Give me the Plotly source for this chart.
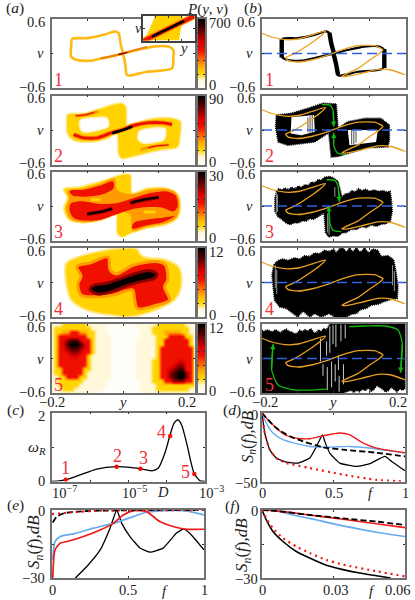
"""Densities, trajectories, resonance curve and spectra, six panels."""

import numpy as np
import plotly.graph_objects as go

W, H = 415, 600
FONT = "Liberation Serif"
GOLD, ORANGE, RED, DARK = "#FFD200", "#FF9A00", "#F01000", "#8C0000"
LABEL_RED = "#F0303C"
TRAJ_ORANGE = "#E8A020"
BLUE = "#3060E0"
LIGHT_BLUE = "#66AAF0"
GREEN = "#10B810"

# colour levels of P(y,v), from the colour bars
LEVEL_COLORS = ["#FFFEF8", "#FFF8DA", "#FFD400", "#FFA500", "#FF5500",
                "#F01000", "#E00000", "#900000", "#400000", "#000000"]
BAR_MAX = [700, 90, 30, 12, 12]

# nullcline, the same in all (b) panels
NULL_Y = [-0.2, -0.173, -0.136, -0.099, -0.062, -0.023, -0.039, -0.071, -0.108, -0.134, -0.127,
          -0.099, -0.062, -0.02, 0.021, 0.068, 0.114, 0.137, 0.128, 0.1, 0.068, 0.023, 0.035,
          0.077, 0.123, 0.16, 0.2]
NULL_V = [0.35, 0.287, 0.24, 0.252, 0.32, 0.39, 0.293, 0.148, 0.003, -0.073, -0.125,
          -0.148, -0.113, -0.038, 0.06, 0.136, 0.136, 0.066, 0.003, -0.113, -0.258, -0.392, -0.403,
          -0.345, -0.276, -0.287, -0.374]

# panel 1: the closed loop
LOOP_Y = [0, -0.045, -0.091, -0.128, -0.145, -0.145, -0.142, -0.1, -0.054, -0.021, -0.012, -0.007, 0,
          0.006, 0.011, 0.02, 0.067, 0.137, 0.141, 0.141, 0.127, 0.085, 0.039, 0]
LOOP_V = [0, -0.067, -0.125, -0.114, -0.055, 0.12, 0.255, 0.267, 0.325, 0.384, 0.354, 0.179, 0,
          -0.172, -0.377, -0.383, -0.318, -0.26, -0.055, 0.06, 0.12, 0.12, 0.06, 0]
LOOP_RIDGE_Y = [-0.063, -0.026, 0, 0.03, 0.067]
LOOP_RIDGE_V = [-0.084, -0.038, 0, 0.054, 0.115]
LOOP_CORE_Y = [-0.012, 0, 0.012]
LOOP_CORE_V = [-0.018, 0, 0.02]

INSET_GOLD_Y = [-0.011, 0.011, 0.008, -0.019, -0.012]
INSET_GOLD_V = [0.08, 0.08, -0.08, -0.08, 0.053]
INSET_RIDGE_Y = [-0.02, 0.02]
INSET_RIDGE_V = [-0.084, 0.08]
INSET_CORE_Y = [-0.013, 0.012]
INSET_CORE_V = [-0.055, 0.048]

# panel 2 density
A2_OUTER_Y = [-0.156, -0.11, -0.068, -0.03, -0.002, 0.009, 0.01, 0.013, 0.049, 0.095, 0.137, 0.161, 0.161,
              0.153, 0.114, 0.067, 0.03, -0.002, -0.012, -0.015, -0.018, -0.044, -0.091, -0.138, -0.156, -0.158]
A2_OUTER_V = [0.269, 0.293, 0.368, 0.443, 0.467, 0.397, 0.223, 0.061, 0.153, 0.211, 0.211, 0.153, -0.067,
              -0.299, -0.345, -0.403, -0.461, -0.502, -0.444, -0.183, -0.067, -0.154, -0.212, -0.183, -0.067, 0.107]
A2_HOLE_L_Y = [-0.118, -0.082, -0.045, -0.04, -0.072, -0.112, -0.122]
A2_HOLE_L_V = [0.18, 0.215, 0.21, 0.07, -0.01, -0.035, 0.08]
A2_HOLE_R_Y = [0.045, 0.081, 0.118, 0.116, 0.095, 0.055, 0.042]
A2_HOLE_R_V = [-0.025, 0.035, 0.02, -0.16, -0.21, -0.225, -0.16]
A2_RIDGE_Y = [-0.138, -0.11, -0.072, -0.035, -0.002, 0.03, 0.067, 0.114, 0.137]
A2_RIDGE_V = [-0.079, -0.137, -0.137, -0.055, 0.003, 0.078, 0.124, 0.124, 0.095]
A2_CORE_Y = [-0.03, 0.002, 0.026]
A2_CORE_V = [-0.055, 0.003, 0.06]
A2_UP_Y = [-0.133, -0.1, -0.068]
A2_UP_V = [0.246, 0.269, 0.327]
A2_LOW_Y = [0.049, 0.086, 0.128]
A2_LOW_V = [-0.345, -0.287, -0.258]

# panel 3 density
A3_OUTER_Y = [-0.166, -0.119, -0.072, -0.03, -0.002, 0.021, 0.023, 0.026, 0.067, 0.123, 0.151, 0.161, 0.153, 0.123,
              0.067, 0.026, -0.002, -0.015, -0.018, -0.018, -0.054, -0.11, -0.152, -0.166, -0.156]
A3_OUTER_V = [0.3, 0.335, 0.415, 0.496, 0.554, 0.542, 0.369, 0.225, 0.311, 0.311, 0.225, 0.023, -0.208, -0.323,
              -0.392, -0.467, -0.542, -0.496, -0.266, -0.15, -0.237, -0.294, -0.237, -0.035, 0.138]
A3_MID_Y = [-0.154, -0.11, -0.063, -0.024, -0.018, 0.021, 0.077, 0.125, 0.15, 0.157, 0.147, 0.119, 0.067, 0.028,
            0.021, -0.021, -0.054, -0.11, -0.147, -0.158, -0.149]
A3_MID_V = [0.254, 0.3, 0.381, 0.473, 0.283, 0.196, 0.277, 0.288, 0.208, -0.006, -0.208, -0.294, -0.352, -0.427,
            -0.15, -0.092, -0.219, -0.277, -0.219, -0.035, 0.138]
A3_BAND_UP_Y = [-0.149, -0.11, -0.063, -0.028, -0.026, -0.054, -0.11, -0.142]
A3_BAND_UP_V = [0.265, 0.283, 0.358, 0.427, 0.312, 0.208, 0.161, 0.185]
A3_BAND_MID_Y = [-0.147, -0.119, -0.063, -0.016, 0.03, 0.077, 0.123, 0.147, 0.153, 0.142, 0.105, 0.058, 0.021,
                 -0.021, -0.063, -0.11, -0.138, -0.149]
A3_BAND_MID_V = [0.035, 0.081, 0.035, 0.052, 0.138, 0.225, 0.254, 0.185, -0.006, -0.092, -0.023, -0.023, -0.064,
                 -0.15, -0.237, -0.254, -0.208, -0.092]
A3_BAND_LOW_Y = [0.026, 0.03, 0.063, 0.105, 0.144, 0.114, 0.067]
A3_BAND_LOW_V = [-0.392, -0.294, -0.237, -0.208, -0.179, -0.277, -0.335]
A3_SPOT_L_Y = [-0.09, -0.063]
A3_SPOT_L_V = [0.11, 0.11]
A3_SPOT_R_Y = [0.058, 0.091]
A3_SPOT_R_V = [-0.104, -0.104]
A3_CORE_L_Y = [-0.1, -0.063, -0.03]
A3_CORE_L_V = [-0.139, -0.104, -0.046]
A3_CORE_R_Y = [0.021, 0.058, 0.1]
A3_CORE_R_V = [0.052, 0.11, 0.15]

# panel 4 density
A4_OUTER_Y = [-0.159, -0.122, -0.066, -0.024, 0.037, 0.055, 0.121, 0.158, 0.163, 0.144, 0.102, 0.046, 0.009,
              -0.028, -0.066, -0.112, -0.145, -0.159]
A4_OUTER_V = [0.337, 0.454, 0.542, 0.588, 0.588, 0.454, 0.395, 0.249, -0.073, -0.307, -0.453, -0.57, -0.6,
              -0.57, -0.541, -0.453, -0.307, -0.014]
A4_BAND_Y = [-0.129, -0.094, -0.042, -0.036, -0.019, 0.027, 0.093, 0.118, 0.125, 0.116, 0.13, 0.093, 0.041, 0.032,
             0.027, -0.028, -0.075, -0.117, -0.126, -0.117]
A4_BAND_V = [0.278, 0.337, 0.442, 0.22, 0.15, 0.296, 0.366, 0.308, 0.044, -0.073, -0.307, -0.395, -0.453, -0.278,
             -0.131, -0.219, -0.248, -0.219, -0.014, 0.103]
A4_CORE_Y = [-0.092, -0.08, -0.047, -0.005, 0.037, 0.074, 0.095, 0.088, 0.051, 0.009, -0.033, -0.07]
A4_CORE_V = [-0.12, -0.044, -0.014, 0.073, 0.161, 0.208, 0.15, 0.073, 0.015, -0.061, -0.16, -0.201]

# panel 5 density, digits are colour levels, rows from v=0.6 down to v=-0.6, columns from y=-0.2 to 0.2
A5_ROWS = [
    "111222222111" "110000000111" "112222222111",
    "122222222211" "110000000011" "122222222211",
    "122335533221" "110000000011" "122233332211",
    "125555555221" "111000000011" "112225555221",
    "125678865521" "111000000111" "112255555521",
    "125689986521" "111000000111" "112255555521",
    "125678876521" "111000000111" "112555555552",
    "125567765521" "111000000111" "112555555552",
    "125556655211" "111000000111" "112555555552",
    "125555555211" "111000000111" "122555566552",
    "125555555211" "111000000111" "122555677552",
    "122555552211" "111000000111" "122556788552",
    "122555552111" "111000000111" "122557899752",
    "112255522111" "111000000111" "122557899752",
    "112222221111" "110000000011" "122255777552",
    "112222211111" "110000000011" "112222222222",
    "111222111111" "100000000011" "112222222211",
    "111111111110" "000000000001" "111111111111",
]

# (b) panel 1: thick vertical stretches of the trajectory
B1_THICK = [([-0.145, -0.145], [-0.07, 0.25]), ([-0.012, -0.007, 0.0], [0.36, 0.18, 0.02]),
            ([0.0, 0.006, 0.012], [-0.02, -0.17, -0.37]), ([0.141, 0.141], [0.08, -0.25])]

# (b) panel 2 black cloud
B2_OUTER_Y = [-0.16, -0.118, -0.072, -0.03, 0.007, 0.01, 0.012, 0.039, 0.086, 0.132, 0.155, 0.155, 0.151, 0.095,
              0.039, 0.012, -0.007, -0.012, -0.014, -0.053, -0.128, -0.155, -0.162]
B2_OUTER_V = [0.261, 0.29, 0.378, 0.465, 0.454, 0.231, 0.027, 0.144, 0.202, 0.202, 0.085, -0.178, -0.295, -0.307,
              -0.412, -0.459, -0.471, -0.237, -0.049, -0.207, -0.266, -0.207, 0.056]
B2_HOLE_L_Y = [-0.118, -0.055, -0.053, -0.09, -0.12]
B2_HOLE_L_V = [0.22, 0.261, -0.032, -0.09, -0.06]
B2_HOLE_R_Y = [0.039, 0.123, 0.118, 0.044]
B2_HOLE_R_V = [0.0, 0.0, -0.207, -0.266]
B2_STREAK_Y = [-0.06, -0.066, -0.072, 0.05, 0.056, 0.062]
B2_STREAK_TOP = [0.27, 0.24, 0.22, 0.0, 0.0, -0.02]
B2_STREAK_BOT = [-0.04, -0.05, -0.04, -0.25, -0.25, -0.22]
B2_ARROW_DOWN_Y = [-0.033, -0.012, -0.002, 0.0]
B2_ARROW_DOWN_V = [0.442, 0.436, 0.348, 0.056]
B2_ARROW_UP_Y = [0.032, 0.01, 0.0, 0.0]
B2_ARROW_UP_V = [-0.424, -0.4, -0.266, -0.049]

# (b) panel 3 black cloud
B3_OUTER_Y = [-0.159, -0.153, -0.145, -0.136, -0.127, -0.118, -0.108, -0.099, -0.09, -0.081, -0.071, -0.062,
              -0.053, -0.044, -0.034, -0.025, -0.011, 0.003, 0.012, 0.019, 0.023, 0.032, 0.042, 0.051, 0.06, 0.069,
              0.079, 0.088, 0.1, 0.112, 0.125, 0.137, 0.149, 0.157, 0.16, 0.163, 0.158, 0.146, 0.132, 0.119, 0.105,
              0.091, 0.077, 0.063, 0.049, 0.035, 0.023, 0.012, -0.002, -0.014, -0.023, -0.027, -0.039, -0.048,
              -0.057, -0.067, -0.076, -0.088, -0.099, -0.11, -0.122, -0.134, -0.145, -0.155, -0.164, -0.164]
B3_OUTER_V = [0.267, 0.3, 0.279, 0.313, 0.284, 0.324, 0.3, 0.347, 0.324, 0.37, 0.359, 0.416,
              0.405, 0.456, 0.451, 0.502, 0.514, 0.474, 0.428, 0.227, 0.152, 0.21, 0.221, 0.267, 0.244, 0.301,
              0.267, 0.29, 0.256, 0.279, 0.256, 0.267, 0.244, 0.256, 0.141, -0.089, -0.261, -0.307, -0.318, -0.353,
              -0.33, -0.376, -0.359, -0.41, -0.405, -0.462, -0.468, -0.525, -0.519, -0.537, -0.462, -0.118, -0.175,
              -0.204, -0.232, -0.221, -0.261, -0.261, -0.295, -0.29, -0.324, -0.29, -0.232, -0.192, -0.089, 0.141]
B3_STREAK_Y = [-0.16, -0.157, -0.017, -0.013, 0.003]
B3_STREAK_TOP = [0.24, 0.2, -0.13, -0.2, 0.33]
B3_STREAK_BOT = [-0.13, -0.1, -0.46, -0.5, 0.16]
B3_ARROW_DOWN_Y = [-0.02, 0.003, 0.012, 0.016]
B3_ARROW_DOWN_V = [0.456, 0.445, 0.342, 0.072]
B3_ARROW_UP_Y = [0.021, -0.002, -0.011, -0.014]
B3_ARROW_UP_V = [-0.445, -0.422, -0.29, -0.003]

# (b) panel 4 black cloud
B4_OUTER_Y = [-0.167, -0.155, -0.142, -0.128, -0.109, -0.095, -0.081, -0.067, -0.053, -0.039, -0.026, -0.012, 0.0,
              0.007, 0.016, 0.026, 0.035, 0.044, 0.053, 0.063, 0.074, 0.086, 0.097, 0.109, 0.123, 0.132, 0.151, 0.167,
              0.174, 0.179, 0.177, 0.16, 0.141, 0.123, 0.104, 0.09, 0.075, 0.063, 0.049, 0.035, 0.002, -0.012, -0.035,
              -0.053, -0.067, -0.086, -0.1, -0.116, -0.132, -0.151, -0.165, -0.169, -0.172]
B4_OUTER_V = [0.308, 0.384, 0.407, 0.384, 0.43, 0.407, 0.465, 0.454, 0.512, 0.5, 0.559, 0.541, 0.582,
              0.512, 0.588, 0.6, 0.524, 0.6, 0.536, 0.6, 0.524, 0.6, 0.512, 0.582, 0.559, 0.454, 0.465, 0.395,
              0.161, -0.073, -0.278, -0.295, -0.33, -0.377, -0.395, -0.453, -0.471, -0.541, -0.552, -0.6, -0.6, -0.541, -0.6,
              -0.541, -0.6, -0.494, -0.6, -0.529, -0.453, -0.424, -0.307, -0.073, 0.132]
B4_STREAK_Y = [-0.163, -0.159, 0.164, 0.169]
B4_STREAK_TOP = [0.3, 0.22, 0.3, 0.2]
B4_STREAK_BOT = [-0.1, -0.2, -0.05, -0.15]

# (b) panel 5 black cloud with white gaps
B5_OUTER_Y = [-0.2, -0.193, -0.186, -0.178, -0.171, -0.163, -0.155, -0.148, -0.14, -0.132, -0.125, -0.117, -0.11,
              -0.102, -0.095, -0.087, -0.08, -0.072, -0.064, -0.057, -0.05, -0.042, -0.035, -0.028, -0.02, -0.011,
              0.2, 0.2, 0.192, 0.184, 0.176, 0.168, 0.16, 0.152, 0.144, 0.136, 0.128, 0.12, 0.112, 0.104, 0.096,
              0.088, 0.08, 0.072, 0.064, 0.056, 0.048, 0.04, 0.032, 0.026, -0.2]
B5_OUTER_V = [0.49, 0.47, 0.5, 0.48, 0.46, 0.5, 0.47, 0.45, 0.49, 0.51, 0.47, 0.46, 0.43,
              0.44, 0.49, 0.47, 0.5, 0.47, 0.52, 0.46, 0.44, 0.5, 0.47, 0.52, 0.5, 0.6,
              0.6, -0.52, -0.55, -0.53, -0.58, -0.54, -0.5, -0.56, -0.58, -0.53, -0.5, -0.47, -0.54, -0.57, -0.51,
              -0.56, -0.53, -0.58, -0.55, -0.59, -0.55, -0.57, -0.59, -0.6, -0.6]
B5_STREAK_Y = [-0.037, -0.03, -0.02, -0.018, -0.011, -0.006, -0.002, 0.006, 0.004, 0.013, 0.015, 0.02, 0.027, 0.032]
B5_STREAK_TOP = [0.35, -0.1, 0.3, -0.15, 0.56, -0.05, 0.59, 0.59, -0.1, 0.05, -0.3, 0.59, -0.1, 0.59]
B5_STREAK_BOT = [-0.05, -0.3, 0.05, -0.55, 0.1, -0.5, 0.25, 0.2, -0.4, -0.2, -0.58, 0.3, -0.45, 0.35]
B5_ARROW_R_Y = [0.043, 0.086, 0.142, 0.179, 0.191, 0.186]
B5_ARROW_R_V = [0.554, 0.565, 0.565, 0.496, 0.264, -0.247]
B5_ARROW_L_Y = [-0.02, -0.108, -0.155, -0.173, -0.169]
B5_ARROW_L_V = [-0.531, -0.548, -0.461, -0.2, 0.252]

# (c) resonance curve
LOGD = [-7, -6.64, -6.27, -5.83, -5.31, -4.96, -4.7, -4.39, -4.22, -4.05, -3.92, -3.81, -3.71, -3.61, -3.48,
        -3.35, -3.28, -3.13, -3]
OMEGA_R = [0, 0.05, 0.19, 0.36, 0.43, 0.41, 0.37, 0.31, 0.39, 0.82, 1.32, 1.69, 1.79, 1.64, 1.11, 0.48, 0.22, 0.02, 0]
POINT_LOGD = [-6.64, -5.31, -4.69, -3.91, -3.28]
POINT_OMEGA = [0.05, 0.43, 0.37, 1.32, 0.22]

# (d) spectra
D_DASH_F = [0, 0.042, 0.1, 0.194, 0.287, 0.428, 0.568, 0.801, 1]
D_DASH_S = [0, -4.9, -11, -17, -20.7, -25, -26.8, -29, -31.7]
D_RED_F = [0, 0.042, 0.1, 0.159, 0.241, 0.334, 0.428, 0.544, 0.614, 0.708, 0.801, 1]
D_RED_S = [0, -5, -11, -15.9, -18.3, -18.8, -16.6, -14.6, -15.9, -22, -25.6, -29]
D_BLUE_F = [0, 0.03, 0.077, 0.147, 0.241, 0.334, 0.474, 0.614, 0.755, 0.871, 1]
D_BLUE_S = [0, -7.3, -14.6, -19.5, -22.4, -24.4, -24.9, -24.4, -25.6, -27.3, -29.3]
D_BLACK_F = [0, 0.019, 0.054, 0.1, 0.171, 0.252, 0.334, 0.381, 0.423, 0.439, 0.474, 0.544, 0.661, 0.755, 0.86, 0.907, 1]
D_BLACK_S = [0, -14.6, -26.8, -32.9, -35.9, -36.6, -32.9, -24.4, -15.9, -20.7, -29.3, -36.6, -39, -37, -31.7, -35.4, -42.2]
D_DOT_F = [0, 0.019, 0.054, 0.1, 0.171, 0.334, 0.568, 0.801, 1]
D_DOT_S = [0, -14.6, -26.8, -32.9, -36.6, -40.2, -45, -48.8, -50]

# (e) spectra
E_DASH_F = [0.005, 0.03, 0.076, 0.16, 0.32, 0.53, 1]
E_DASH_S = [-5.5, -3, -1.5, -0.7, -0.3, -0.1, 0]
E_RED_F = [0.005, 0.02, 0.055, 0.1, 0.207, 0.317, 0.404, 0.469, 0.535, 0.622, 0.71, 0.797, 0.884, 1]
E_RED_S = [-30, -17.6, -14.6, -13.9, -11.7, -8.8, -5.9, -2.2, -0.3, -0.7, -5.1, -7.3, -8.5, -8.5]
E_BLUE_F = [0.005, 0.02, 0.055, 0.142, 0.273, 0.404, 0.535, 0.622, 0.753, 0.884, 1]
E_BLUE_S = [-22, -13.9, -11.7, -10.5, -8, -5.9, -2.9, -1, -0.3, -0.4, -2.2]
E_BLACK_F = [0.153, 0.229, 0.317, 0.382, 0.426, 0.459, 0.513, 0.579, 0.644, 0.731, 0.819, 0.867, 0.917, 1]
E_BLACK_S = [-30, -24.9, -17.6, -8, 0, -5.9, -11.7, -16.8, -18.6, -16.8, -10.2, -8.3, -11, -17.6]
E_DOT_F = [0, 0.1, 0.3, 0.5, 1]
E_DOT_S = [-1.8, -1.2, -0.3, -0.1, 0]

# (f) spectra at low frequency
F_DASH_F = [0, 0.006, 0.02, 0.034, 0.048, 0.06]
F_DASH_S = [0, -0.4, -2.2, -3.7, -5.1, -6.6]
F_RED_F = [0, 0.006, 0.02, 0.034, 0.048, 0.06]
F_RED_S = [0, -0.4, -2.2, -4.1, -6.1, -7.8]
F_BLUE_F = [0, 0.006, 0.013, 0.02, 0.034, 0.048, 0.06]
F_BLUE_S = [0, -0.3, -2.2, -3.7, -7, -9.8, -11.7]
F_BLACK_F = [0, 0.0018, 0.0046, 0.0088, 0.0144, 0.02, 0.027, 0.034, 0.041, 0.048, 0.054]
F_BLACK_S = [0, -4.4, -9.5, -13.9, -18.3, -21.2, -24.4, -26.3, -27.8, -29, -30]
F_DOT_F = [0, 0.0018, 0.0046, 0.0088, 0.0144, 0.02, 0.027, 0.034, 0.048, 0.06]
F_DOT_S = [0, -3.7, -8, -12.4, -16.1, -19, -22, -24.1, -27, -29.3]

PANEL_TOPS = [19, 95.5, 171.5, 248, 324]
PANEL_H = 69
A_LEFT, A_RIGHT = 51.5, 194.5
B_LEFT, B_RIGHT = 262, 405.5
BAR_LEFT, BAR_RIGHT = 197.5, 205

fig = go.Figure()
annotations = []
level_scale = [[i / 9, c] for i, c in enumerate(LEVEL_COLORS)]


def px_x(x):
    return x / W


def px_y(y):
    return 1 - y / H


def add_axes(n, box, xrange, yrange, xticks=(), yticks=(), xtype="linear", frame="#707070"):
    """Fixe un axe posé en pixels; les libellés sont posés à part."""
    left, top, right, bottom = box
    base = dict(showgrid=False, zeroline=False, showline=True, linecolor=frame, linewidth=1.5, mirror="ticks",
                ticks="inside", ticklen=2, tickwidth=0.8, tickcolor="#333333", showticklabels=False)
    suffix = "" if n == 1 else str(n)
    fig.layout["xaxis" + suffix] = dict(base, domain=[px_x(left), px_x(right)], range=xrange, type=xtype,
                                        tickvals=list(xticks), anchor="y" + suffix)
    fig.layout["yaxis" + suffix] = dict(base, domain=[px_y(bottom), px_y(top)], range=yrange,
                                        tickvals=list(yticks), anchor="x" + suffix)


def refs(n):
    suffix = "" if n == 1 else str(n)
    return dict(xaxis="x" + suffix, yaxis="y" + suffix)


def curve(n, xs, ys, color, width, dash=None, spline=True, smoothing=0.6):
    line = dict(color=color, width=width)
    if dash:
        line["dash"] = dash
    if spline:
        line["shape"] = "spline"
        line["smoothing"] = smoothing
    fig.add_trace(go.Scatter(x=xs, y=ys, mode="lines", line=line, hoverinfo="skip", showlegend=False, **refs(n)))


def region(n, xs, ys, color, edge=None, edge_width=0.0, spline=True, dash=None):
    line = dict(color=edge or color, width=edge_width)
    if spline:
        line["shape"] = "spline"
        line["smoothing"] = 0.9
    if dash:
        line["dash"] = dash
    fig.add_trace(go.Scatter(x=list(xs) + [xs[0]], y=list(ys) + [ys[0]], mode="lines", fill="toself", fillcolor=color,
                             line=line, hoverinfo="skip", showlegend=False, **refs(n)))


def cloud(n, xs, ys):
    """Nuage noir; le contour en pointillé serré rend le bord rugueux."""
    region(n, xs, ys, "#000000", "#000000", 1.6, spline=False, dash="1px,1px")


def streaks(n, xs, tops, bottoms, color="#FFFFFF", width=0.6):
    for x, top, bottom in zip(xs, tops, bottoms):
        curve(n, [x, x], [top, bottom], color, width, spline=False)


def arrow(n, xs, ys):
    """Courbe verte avec une pointe sur le dernier segment."""
    curve(n, xs, ys, GREEN, 1.3)
    suffix = "" if n == 1 else str(n)
    annotations.append(dict(x=xs[-1], y=ys[-1], ax=xs[-2], ay=ys[-2], xref="x" + suffix, yref="y" + suffix,
                            axref="x" + suffix, ayref="y" + suffix, text="", showarrow=True, arrowhead=2,
                            arrowsize=0.8, arrowwidth=1.3, arrowcolor=GREEN))


def label(x, y, text, size=14.5, color="#222222", anchor="center", angle=0):
    annotations.append(dict(x=px_x(x), y=px_y(y), xref="paper", yref="paper", text=text, showarrow=False,
                            xanchor=anchor, yanchor="middle", textangle=angle,
                            font=dict(family=FONT, size=size, color=color)))


# column (a), axes 1-5; colour bars 6-10; column (b), axes 11-15
y_range, v_range = [-0.2, 0.2], [-0.6, 0.6]
for i, top in enumerate(PANEL_TOPS):
    add_axes(1 + i, (A_LEFT, top, A_RIGHT, top + PANEL_H), y_range, v_range, xticks=[-0.1, 0, 0.1], yticks=[0])
    add_axes(6 + i, (BAR_LEFT, top, BAR_RIGHT, top + PANEL_H), [0, 1], [0, 1],
             yticks=[0.2, 0.4, 0.6, 0.8])
    add_axes(11 + i, (B_LEFT, top, B_RIGHT, top + PANEL_H), y_range, v_range, xticks=[-0.1, 0, 0.1], yticks=[0])

# colour bars
ramp = np.linspace(0, 1, 64)
for i in range(5):
    fig.add_trace(go.Heatmap(x=[0, 1], y=ramp, z=[[r, r] for r in ramp], colorscale=level_scale, zmin=0, zmax=1,
                             showscale=False, zsmooth="best", hoverinfo="skip", **refs(6 + i)))

# (a)1 loop and ridge
curve(1, LOOP_Y, LOOP_V, "#FDBA12", 2.6, smoothing=0.7)
curve(1, LOOP_RIDGE_Y, LOOP_RIDGE_V, "#F08000", 2)
curve(1, LOOP_CORE_Y, LOOP_CORE_V, "#800000", 1.5)

# (a)2
region(2, A2_OUTER_Y, A2_OUTER_V, GOLD, "#FFE888", 1.5)
region(2, A2_HOLE_L_Y, A2_HOLE_L_V, "#FFFFFF", "#FFF0B0", 1.5)
region(2, A2_HOLE_R_Y, A2_HOLE_R_V, "#FFFFFF", "#FFF0B0", 1.5)
curve(2, A2_UP_Y, A2_UP_V, ORANGE, 3)
curve(2, A2_UP_Y[:2] + [-0.08], A2_UP_V[:2] + [0.31], RED, 1.3)
curve(2, A2_LOW_Y, A2_LOW_V, ORANGE, 3)
curve(2, [0.07, 0.09, 0.128], [-0.31, -0.28, -0.258], RED, 1.3)
curve(2, A2_RIDGE_Y, A2_RIDGE_V, ORANGE, 5)
curve(2, A2_RIDGE_Y, A2_RIDGE_V, RED, 3)
curve(2, A2_CORE_Y, A2_CORE_V, "#000000", 2.6)

# (a)3
region(3, A3_OUTER_Y, A3_OUTER_V, GOLD, "#FFE888", 1.5)
region(3, A3_MID_Y, A3_MID_V, ORANGE, ORANGE, 1)
curve(3, A3_SPOT_L_Y, A3_SPOT_L_V, GOLD, 3)
curve(3, A3_SPOT_R_Y, A3_SPOT_R_V, GOLD, 3)
region(3, A3_BAND_UP_Y, A3_BAND_UP_V, RED)
region(3, A3_BAND_MID_Y, A3_BAND_MID_V, RED)
region(3, A3_BAND_LOW_Y, A3_BAND_LOW_V, RED)
for xs, ys in ((A3_CORE_L_Y, A3_CORE_L_V), (A3_CORE_R_Y, A3_CORE_R_V)):
    curve(3, xs, ys, DARK, 4)
    curve(3, xs, ys, "#000000", 1.8)

# (a)4
region(4, A4_OUTER_Y, A4_OUTER_V, GOLD, "#FFE888", 2)
region(4, A4_BAND_Y, A4_BAND_V, RED, ORANGE, 3)
region(4, A4_CORE_Y, A4_CORE_V, "#000000", DARK, 3)

# (a)5
a5_z = [[int(ch) for ch in row] for row in reversed(A5_ROWS)]
a5_y = np.linspace(-0.2, 0.2, len(A5_ROWS[0]))
a5_v = np.linspace(-0.6, 0.6, len(A5_ROWS))
fig.add_trace(go.Heatmap(x=a5_y, y=a5_v, z=a5_z, colorscale=level_scale, zmin=0, zmax=9, zsmooth="best",
                         showscale=False, hoverinfo="skip", **refs(5)))

# (b)1
curve(11, LOOP_Y, LOOP_V, "#000000", 2.2, smoothing=0.7)
for xs, ys in B1_THICK:
    curve(11, xs, ys, "#000000", 4.4)

# (b)2
cloud(12, B2_OUTER_Y, B2_OUTER_V)
region(12, B2_HOLE_L_Y, B2_HOLE_L_V, "#FFFFFF", spline=False)
region(12, B2_HOLE_R_Y, B2_HOLE_R_V, "#FFFFFF", spline=False)
streaks(12, B2_STREAK_Y, B2_STREAK_TOP, B2_STREAK_BOT, "#000000", 0.7)

# (b)3
cloud(13, B3_OUTER_Y, B3_OUTER_V)
streaks(13, B3_STREAK_Y, B3_STREAK_TOP, B3_STREAK_BOT)

# (b)4
cloud(14, B4_OUTER_Y, B4_OUTER_V)
streaks(14, B4_STREAK_Y, B4_STREAK_TOP, B4_STREAK_BOT)

# (b)5
cloud(15, B5_OUTER_Y, B5_OUTER_V)
streaks(15, B5_STREAK_Y, B5_STREAK_TOP, B5_STREAK_BOT, width=0.8)

# nullcline, v=0 and arrows on every (b) panel
for n in range(11, 16):
    curve(n, NULL_Y, NULL_V, TRAJ_ORANGE, 1.3, smoothing=0.5)
    curve(n, y_range, [0, 0], BLUE, 1.6, dash="10px,5px", spline=False)
arrow(12, B2_ARROW_DOWN_Y, B2_ARROW_DOWN_V)
arrow(12, B2_ARROW_UP_Y, B2_ARROW_UP_V)
arrow(13, B3_ARROW_DOWN_Y, B3_ARROW_DOWN_V)
arrow(13, B3_ARROW_UP_Y, B3_ARROW_UP_V)
arrow(15, B5_ARROW_R_Y, B5_ARROW_R_V)
arrow(15, B5_ARROW_L_Y, B5_ARROW_L_V)

# (c)
add_axes(16, (52, 412.5, 205, 481.5), [-7, -3], [0, 2], xticks=[1e-7, 1e-6, 1e-5, 1e-4, 1e-3], yticks=[1], xtype="log")
curve(16, [10 ** d for d in LOGD], OMEGA_R, "#000000", 1.3)
fig.add_trace(go.Scatter(x=[10 ** d for d in POINT_LOGD], y=POINT_OMEGA, mode="markers",
                         marker=dict(color=RED, size=4.5), hoverinfo="skip", showlegend=False, **refs(16)))

# (d), (e), (f)
add_axes(17, (262, 413, 405, 481.5), [0, 1], [-50, 0], xticks=[0.5], yticks=[-25])
curve(17, D_BLACK_F, D_BLACK_S, "#000000", 1.3, smoothing=0.4)
curve(17, D_BLUE_F, D_BLUE_S, LIGHT_BLUE, 1.4)
curve(17, D_RED_F, D_RED_S, "#F01818", 1.3)
curve(17, D_DASH_F, D_DASH_S, "#000000", 1.8, dash="6px,3px")
curve(17, D_DOT_F, D_DOT_S, "#F01818", 2.2, dash="2px,4px")

add_axes(18, (52, 510, 204, 578), [0, 1], [-30, 0], xticks=[0.5], yticks=[-15])
curve(18, E_BLACK_F, E_BLACK_S, "#000000", 1.3, smoothing=0.4)
curve(18, E_BLUE_F, E_BLUE_S, LIGHT_BLUE, 1.7)
curve(18, E_RED_F, E_RED_S, "#F01818", 1.7)
curve(18, E_DASH_F, E_DASH_S, "#000000", 1.8, dash="6px,3px")
curve(18, E_DOT_F, E_DOT_S, "#F01818", 2.2, dash="2px,4px")

add_axes(19, (262, 510, 405, 578), [0, 0.06], [-30, 0], xticks=[0.03], yticks=[-15])
curve(19, F_BLACK_F, F_BLACK_S, "#000000", 1.6)
curve(19, F_BLUE_F, F_BLUE_S, LIGHT_BLUE, 1.6)
curve(19, F_RED_F, F_RED_S, "#F01818", 1.6)
curve(19, F_DASH_F, F_DASH_S, "#000000", 1.8, dash="6px,3px")
curve(19, F_DOT_F, F_DOT_S, "#F01818", 2.2, dash="2px,4px")

# inset on top of (a)1
add_axes(20, (143, 16, 194.5, 40.5), [-0.02, 0.02], [-0.08, 0.08], xticks=[-0.01, 0, 0.01], yticks=[0],
         frame="#404040")
region(20, INSET_GOLD_Y, INSET_GOLD_V, GOLD, spline=False)
curve(20, INSET_RIDGE_Y, INSET_RIDGE_V, ORANGE, 6.5, spline=False)
curve(20, INSET_RIDGE_Y, INSET_RIDGE_V, RED, 4, spline=False)
curve(20, INSET_CORE_Y, INSET_CORE_V, "#000000", 2.6, spline=False)

# text
NUM = ["1", "2", "3", "4", "5"]
for i, top in enumerate(PANEL_TOPS):
    label(47, top + 2.5, "0.6", anchor="right")
    label(46, top + 34.5, "<i>v</i>", anchor="right")
    label(47, top + 67.5, "−0.6", anchor="right")
    label(257, top + 2.5, "0.6", anchor="right")
    label(255, top + 34.5, "<i>v</i>", anchor="right")
    label(257, top + 67.5, "−0.6", anchor="right")
    label(207, top + 4, str(BAR_MAX[i]), anchor="left")
    label(207, top + 66.5, "0", anchor="left")
    label(58, top + 60.5, NUM[i], 18, LABEL_RED)
    label(269, top + 60.5, NUM[i], 18, LABEL_RED)

label(15, 8, "(<i>a</i>)", 15.5)
label(253, 8, "(<i>b</i>)", 15.5)
label(15, 410, "(<i>c</i>)", 15.5)
label(232, 410, "(<i>d</i>)", 15.5)
label(15, 505, "(<i>e</i>)", 15.5)
label(232, 506, "(<i>f</i>)", 15.5)
label(207, 9, "<i>P</i>(<i>y</i>, <i>v</i>)", 15)
label(138, 28, "<i>v</i>")
label(183, 48, "<i>y</i>")

label(52, 402, "−0.2")
label(122, 402, "<i>y</i>")
label(187, 402, "0.2")
label(265, 402, "−0.2")
label(332, 402, "<i>y</i>")
label(398, 402, "0.2")

label(47, 416, "2", anchor="right")
label(47, 481, "0", anchor="right")
label(37, 447, "<i>ω<sub>R</sub></i>", 15.5)
label(50, 492, "10<sup>−7</sup>", anchor="left")
label(120, 492, "10<sup>−5</sup>", anchor="left")
label(163, 492, "<i>D</i>")
label(197, 492, "10<sup>−3</sup>", anchor="left")
for text, x, y in (("1", 65.7, 468), ("2", 117, 456), ("3", 143, 458), ("4", 161, 432), ("5", 185, 472)):
    label(x, y, text, 18, LABEL_RED)

label(260, 415, "0", anchor="right")
label(260, 483, "−50", anchor="right")
label(248, 437, "<i>S<sub>n</sub></i>(<i>f</i>)<i>,dB</i>", 16.5, angle=-90)
label(262, 493, "0")
label(334, 493, "0.5")
label(371, 493, "<i>f</i>")
label(405, 493, "1")

label(47, 511, "0", anchor="right")
label(47, 578, "−30", anchor="right")
label(35, 542, "<i>S<sub>n</sub></i>(<i>f</i>)<i>,dB</i>", 17, angle=-90)
label(52, 590, "0")
label(128, 590, "0.5")
label(165, 591, "<i>f</i>")
label(204, 590, "1")

label(260, 511, "0", anchor="right")
label(260, 579, "−30", anchor="right")
label(243, 545, "<i>S<sub>n</sub></i>(<i>f</i>)<i>,dB</i>", 17, angle=-90)
label(262, 590, "0")
label(335, 590, "0.03")
label(372, 591, "<i>f</i>")
label(397, 590, "0.06")

fig.update_layout(width=W, height=H, autosize=False, margin=dict(l=0, r=0, t=0, b=0),
                  paper_bgcolor="white", plot_bgcolor="white", showlegend=False, annotations=annotations,
                  font=dict(family=FONT))
fig.write_html("out.html", config={"displayModeBar": False},
               post_script="document.body.style.margin='0';document.body.style.overflow='hidden';")
